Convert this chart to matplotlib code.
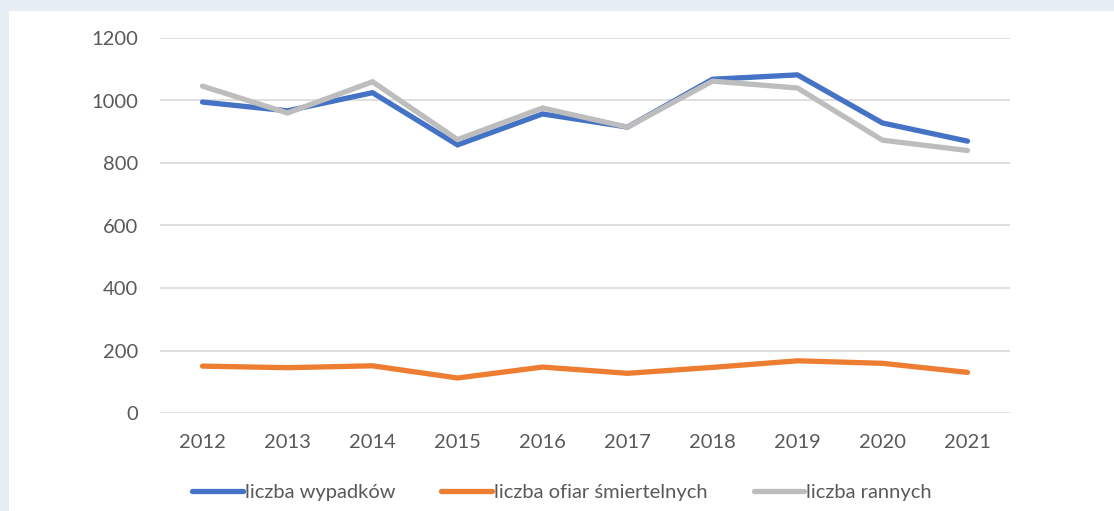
import matplotlib

matplotlib.use("Agg")
import matplotlib.pyplot as plt
from matplotlib.patches import Rectangle

years = ["2012", "2013", "2014", "2015", "2016", "2017", "2018", "2019", "2020", "2021"]
wypadki = [995, 967, 1025, 858, 957, 915, 1068, 1082, 928, 870]
ofiary = [150, 145, 151, 112, 147, 127, 146, 167, 159, 130]
ranni = [1046, 960, 1060, 875, 976, 915, 1062, 1040, 873, 840]
y_ticks = [0, 200, 400, 600, 800, 1000, 1200]

plt.rcParams["font.family"] = ["Lato", "DejaVu Sans"]
TEXT = "#595959"

fig = plt.figure(figsize=(11.14, 5.11), dpi=100)
fig.patch.set_facecolor("#e6edf4")
# white inner panel
fig.add_artist(Rectangle((9 / 1114, 0), 1, 1 - 11 / 511, transform=fig.transFigure,
                         facecolor="white", edgecolor="none", zorder=0))

ax = fig.add_axes([160 / 1114, 1 - 413 / 511, 850 / 1114, 375 / 511])
ax.set_facecolor("none")

x = list(range(len(years)))
ax.plot(x, wypadki, color="#4472C4", lw=3.8, solid_capstyle="round", solid_joinstyle="miter",
        label="liczba wypadków", zorder=3)
ax.plot(x, ofiary, color="#ED7D31", lw=3.8, solid_capstyle="round", solid_joinstyle="miter",
        label="liczba ofiar śmiertelnych", zorder=3)
ax.plot(x, ranni, color="#BDBDBD", lw=3.8, solid_capstyle="round", solid_joinstyle="miter",
        label="liczba rannych", zorder=3)

ax.set_xlim(-0.5, len(years) - 0.5)
ax.set_ylim(0, 1200)
ax.set_yticks(y_ticks)
ax.set_xticks(x)
ax.set_xticklabels(years)
ax.grid(axis="y", color="#d9d9d9", lw=1.2)
ax.set_axisbelow(True)
for s in ax.spines.values():
    s.set_visible(False)
ax.tick_params(length=0, labelsize=14.5, labelcolor=TEXT)
ax.tick_params(axis="y", pad=16)
ax.tick_params(axis="x", pad=15)

fig.legend(loc="center", bbox_to_anchor=(562 / 1114, 1 - 492 / 511), ncol=3, frameon=False,
           fontsize=14.5, labelcolor=TEXT, handlelength=2.5, handletextpad=0.1,
           columnspacing=2.3)

fig.savefig("out.png", dpi=100)
